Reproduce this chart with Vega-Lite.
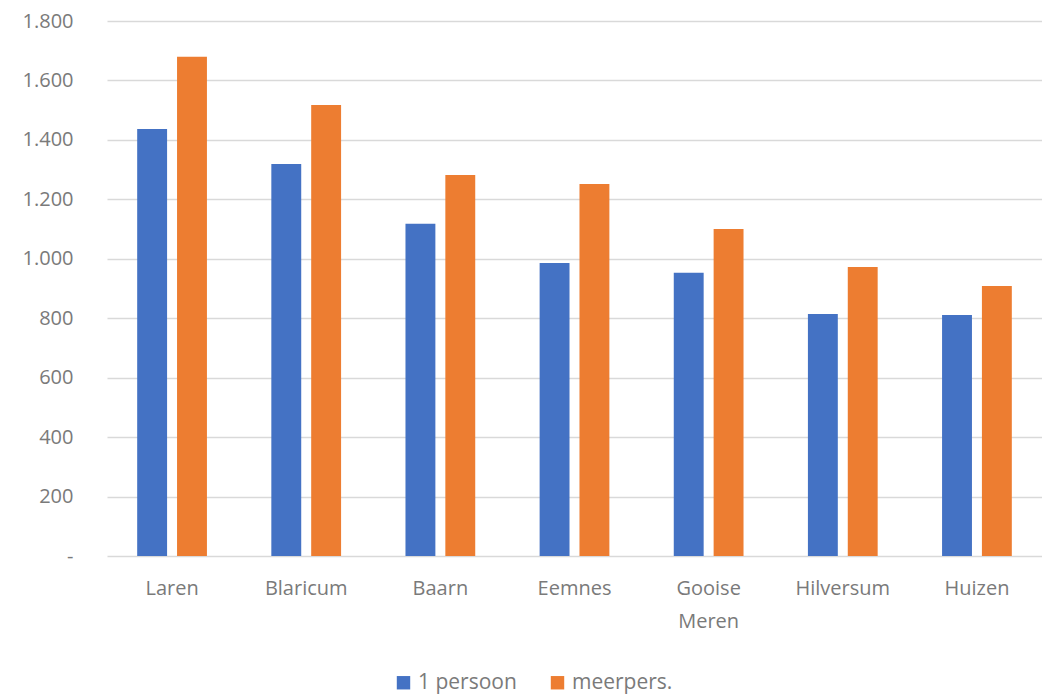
{
  "$schema": "https://vega.github.io/schema/vega-lite/v6.json",
  "autosize": "none",
  "width": 935,
  "height": 535,
  "padding": {"left": 107, "top": 21, "right": 0, "bottom": 138},
  "background": "white",
  "config": {
    "view": {"stroke": null},
    "font": "Open Sans"
  },
  "data": {
    "values": [
      {"gemeente": "Laren", "type": "1 persoon", "waarde": 1437},
      {"gemeente": "Laren", "type": "meerpers.", "waarde": 1680},
      {"gemeente": "Blaricum", "type": "1 persoon", "waarde": 1319},
      {"gemeente": "Blaricum", "type": "meerpers.", "waarde": 1517},
      {"gemeente": "Baarn", "type": "1 persoon", "waarde": 1118},
      {"gemeente": "Baarn", "type": "meerpers.", "waarde": 1282},
      {"gemeente": "Eemnes", "type": "1 persoon", "waarde": 986},
      {"gemeente": "Eemnes", "type": "meerpers.", "waarde": 1252},
      {"gemeente": "Gooise Meren", "type": "1 persoon", "waarde": 953},
      {"gemeente": "Gooise Meren", "type": "meerpers.", "waarde": 1100},
      {"gemeente": "Hilversum", "type": "1 persoon", "waarde": 814},
      {"gemeente": "Hilversum", "type": "meerpers.", "waarde": 972},
      {"gemeente": "Huizen", "type": "1 persoon", "waarde": 811},
      {"gemeente": "Huizen", "type": "meerpers.", "waarde": 908}
    ]
  },
  "mark": {"type": "bar"},
  "encoding": {
    "x": {
      "field": "gemeente",
      "type": "nominal",
      "sort": null,
      "scale": {"paddingInner": 0.48, "paddingOuter": 0.225},
      "axis": {
        "title": null,
        "labelAngle": 0,
        "domain": false,
        "ticks": false,
        "labelPadding": 22,
        "labelFontSize": 20,
        "labelColor": "#7a7a7a",
        "labelLineHeight": 33,
        "labelExpr": "datum.label == 'Gooise Meren' ? ['Gooise', 'Meren'] : datum.label"
      }
    },
    "xOffset": {
      "field": "type",
      "type": "nominal",
      "scale": {"paddingInner": 0.25}
    },
    "y": {
      "field": "waarde",
      "type": "quantitative",
      "scale": {"domain": [0, 1800], "nice": false},
      "axis": {
        "title": null,
        "values": [0, 200, 400, 600, 800, 1000, 1200, 1400, 1600, 1800],
        "domain": false,
        "ticks": false,
        "labelPadding": 34,
        "labelFontSize": 20,
        "labelColor": "#7a7a7a",
        "gridColor": "#d9d9d9",
        "gridWidth": 1.5,
        "labelExpr": "datum.value == 0 ? '-' : replace(format(datum.value, ','), ',', '.')"
      }
    },
    "color": {
      "field": "type",
      "type": "nominal",
      "scale": {"domain": ["1 persoon", "meerpers."], "range": ["#4472c4", "#ed7d31"]},
      "legend": {
        "title": null,
        "orient": "none",
        "direction": "horizontal",
        "legendX": 286,
        "legendY": 651,
        "symbolType": "square",
        "symbolSize": 180,
        "symbolStrokeWidth": 0,
        "labelFontSize": 21,
        "labelColor": "#7a7a7a",
        "labelOffset": 4,
        "columnPadding": 30
      }
    }
  }
}
